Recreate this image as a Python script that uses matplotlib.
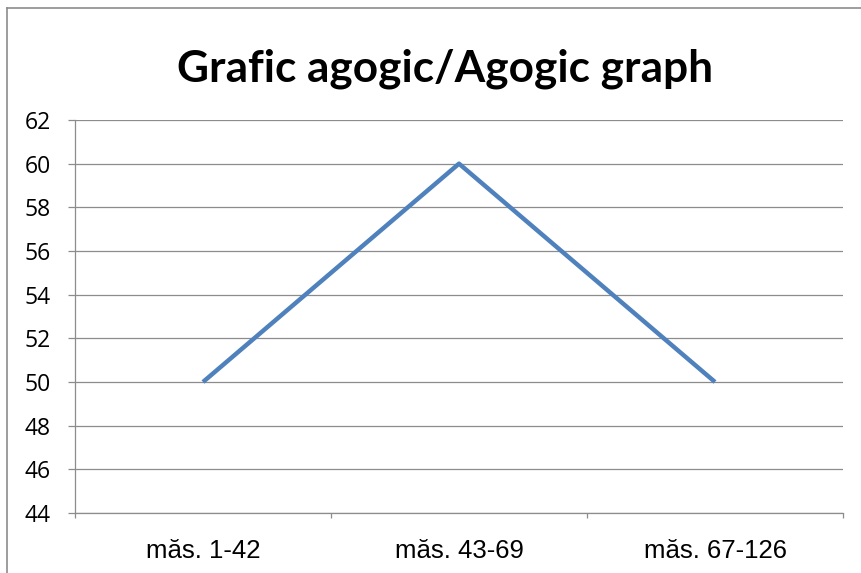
import matplotlib.pyplot as plt
from matplotlib.lines import Line2D

categories = ['măs. 1-42', 'măs. 43-69', 'măs. 67-126']
tempo = [50, 60, 50]
y_ticks = [44, 46, 48, 50, 52, 54, 56, 58, 60, 62]

W, H = 861, 573
fig = plt.figure(figsize=(W / 100, H / 100), dpi=100)
fig.patch.set_facecolor('white')

# outer chart frame (left and top edges visible)
fig.add_artist(Line2D([7 / W, 7 / W], [0, 1 - 8 / H], color='#8c8c8c', lw=1.2,
                      transform=fig.transFigure))
fig.add_artist(Line2D([7 / W, 1], [1 - 8 / H, 1 - 8 / H], color='#8c8c8c', lw=1.2,
                      transform=fig.transFigure))

left, right, top, bottom = 75, 843, 120, 513
ax = fig.add_axes([left / W, 1 - bottom / H, (right - left) / W, (bottom - top) / H])

x = list(range(len(categories)))
ax.plot(x, tempo, color='#4f81bd', lw=3.2, solid_capstyle='butt',
        solid_joinstyle='round', zorder=3)

ax.set_xlim(-0.5, len(categories) - 0.5)
ax.set_ylim(44, 62)
ax.set_yticks(y_ticks)
ax.set_yticklabels([str(v) for v in y_ticks])
for lbl in ax.get_yticklabels():
    lbl.set_fontfamily('Open Sans')
    lbl.set_fontsize(16.5)
ax.set_xticks(x)
ax.set_xticklabels(categories, fontfamily='Liberation Sans', fontsize=18.5)
ax.tick_params(axis='x', length=0, pad=19)
ax.set_xticks([-0.5 + i for i in range(len(categories) + 1)], minor=True)
ax.tick_params(axis='x', which='minor', length=3.6, width=0.9, color='#8c8c8c', direction='out')
ax.tick_params(axis='y', length=5, width=0.9, color='#8c8c8c', pad=12.5)

ax.grid(axis='y', color='#8c8c8c', lw=0.9)
for s in ['top', 'right']:
    ax.spines[s].set_visible(False)
for s in ['left', 'bottom']:
    ax.spines[s].set_color('#8c8c8c')
    ax.spines[s].set_linewidth(0.9)
ax.set_axisbelow(True)

fig.text(445 / W, 1 - 69 / H, 'Grafic agogic/Agogic graph', fontfamily='Lato',
         fontweight='bold', fontsize=31.8, ha='center', va='center')

fig.savefig('out.png', dpi=100)
